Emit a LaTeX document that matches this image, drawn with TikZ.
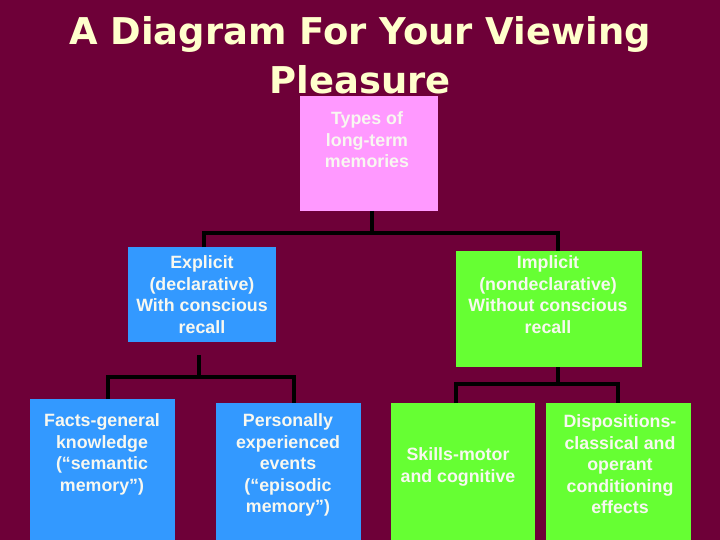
\documentclass[tikz,border=0pt]{standalone}
\usepackage{fontspec}
\newfontfamily\titlefont{DejaVu Sans}
\newfontfamily\boxfont{Liberation Sans}
\definecolor{bgc}{RGB}{110,0,56}
\definecolor{titlec}{RGB}{255,255,204}
\definecolor{pinkc}{RGB}{255,153,255}
\definecolor{bluec}{RGB}{51,153,255}
\definecolor{greenc}{RGB}{102,255,51}
\definecolor{txtc}{RGB}{248,248,240}
\tikzset{
  box/.style={rectangle, inner sep=0pt, outer sep=0pt, anchor=north west},
  boxtext/.style={anchor=north, inner sep=0pt, align=center, text=txtc,
     font=\boxfont\bfseries\fontsize{17.8}{21.5}\selectfont},
  titletext/.style={text=titlec, inner sep=0pt, anchor=base, font=\titlefont\bfseries\fontsize{36.9}{44}\selectfont},
  conn/.style={draw=black, line width=3.2pt}
}
\begin{document}
\begin{tikzpicture}[x=1pt,y=-1pt]
\fill[bgc] (0,0) rectangle (720,540);
\useasboundingbox (0,0) rectangle (720,540);
% title
\node[titletext] (title1) at (360,45) {A Diagram For Your Viewing};
\node[titletext] (title2) at (360,94) {Pleasure};
% boxes
\node[box, fill=pinkc, minimum width=138pt, minimum height=115pt] (pink) at (300,96) {};
\node[box, fill=bluec, minimum width=148pt, minimum height=95pt] (expl) at (128,247) {};
\node[box, fill=greenc, minimum width=186pt, minimum height=116pt] (impl) at (456,251) {};
\node[box, fill=bluec, minimum width=145pt, minimum height=141pt] (facts) at (30,399) {};
\node[box, fill=bluec, minimum width=145pt, minimum height=137pt] (pers) at (216,403) {};
\node[box, fill=greenc, minimum width=144pt, minimum height=137pt] (skills) at (391,403) {};
\node[box, fill=greenc, minimum width=145pt, minimum height=137pt] (disp) at (546,403) {};
% texts
\node[boxtext] (tpink) at (367,111.5) {Types of\\long-term\\memories};
\node[boxtext] (texpl) at (202,255.5) {Explicit\\(declarative)\\With conscious\\recall};
\node[boxtext] (timpl) at (548,255.5) {Implicit\\(nondeclarative)\\Without conscious\\recall};
\node[boxtext] (tfacts) at (102,413.5) {Facts-general\\knowledge\\(“semantic\\memory”)};
\node[boxtext] (tpers) at (288,413.5) {Personally\\experienced\\events\\(“episodic\\memory”)};
\node[boxtext] (tskills) at (458,447.5) {Skills-motor\\and cognitive};
\node[boxtext] (tdisp) at (620,414.5) {Dispositions-\\classical and\\operant\\conditioning\\effects};
% connectors
\coordinate (j1) at (372,233);
\draw[conn] (pink.south -| j1) -- (j1);
\draw[conn] ([xshift=2pt]expl.north) |- (j1) -| ([xshift=9pt]impl.north);
\coordinate (j2top) at (199,355);
\coordinate (j2) at (199,377);
\draw[conn] (j2top) -- (j2);
\draw[conn] ([xshift=5.5pt]facts.north) |- (j2) -| ([xshift=5.5pt]pers.north);
\coordinate (j3) at (558,384);
\draw[conn] (impl.south -| j3) -- (j3);
\draw[conn] ([xshift=-7pt]skills.north) |- (j3) -| ([xshift=-0.5pt]disp.north);
\end{tikzpicture}
\end{document}
